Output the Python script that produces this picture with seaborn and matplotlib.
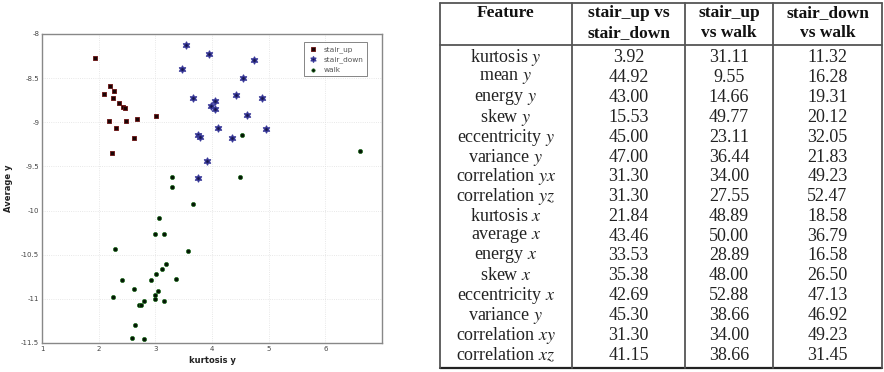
import matplotlib
matplotlib.use("Agg")
import matplotlib.pyplot as plt
import seaborn as sns
import pandas as pd

# ---------------- data ----------------
up_x = [1.93, 2.20, 2.10, 2.27, 2.25, 2.35, 2.43, 2.46, 2.18, 2.31, 2.49, 2.67, 2.62, 2.23, 3.02]
up_y = [-8.27, -8.59, -8.68, -8.65, -8.72, -8.78, -8.83, -8.84, -8.99, -9.07, -8.99, -8.96, -9.18, -9.35, -8.93]

down_x = [3.54, 3.47, 3.66, 3.95, 4.75, 4.54, 4.43, 4.88, 4.05, 3.98, 4.05, 4.61, 4.11, 4.96, 3.76, 3.78, 4.35, 3.91, 3.76]
down_y = [-8.13, -8.40, -8.73, -8.23, -8.30, -8.50, -8.69, -8.73, -8.76, -8.81, -8.85, -8.92, -9.07, -9.08, -9.14, -9.17, -9.18, -9.44, -9.63]

walk_x = [4.53, 4.50, 6.62, 3.29, 3.67, 3.06, 3.00, 3.15, 2.29, 3.57, 3.19, 3.12, 3.02, 2.41, 2.92,
          3.36, 2.63, 3.05, 2.26, 2.99, 3.00, 3.16, 2.80, 2.71, 2.75, 2.64, 2.59, 2.80, 3.30]
walk_y = [-9.14, -9.62, -9.32, -9.62, -9.92, -10.08, -10.26, -10.27, -10.44, -10.46, -10.61, -10.66, -10.72,
          -10.79, -10.79, -10.78, -10.89, -10.91, -10.98, -10.96, -11.00, -11.02, -11.02, -11.07, -11.07,
          -11.30, -11.44, -11.46, -9.73]

class_names = ["stair_up", "stair_down", "walk"]
x_ticks = [1, 2, 3, 4, 5, 6]
y_ticks = [-8, -8.5, -9, -9.5, -10, -10.5, -11, -11.5]
y_tick_labels = ["-8", "-8.5", "-9", "-9.5", "-10", "-10.5", "-11", "-11.5"]

header_line1 = ["Feature", "stair_up vs", "stair_up", "stair_down"]
header_line2 = ["", "stair_down", "vs walk", "vs walk"]
features = ["kurtosis $y$", "mean $y$", "energy $y$", "skew $y$", "eccentricity $y$", "variance $y$",
            "correlation $yx$", "correlation $yz$", "kurtosis $x$", "average $x$", "energy $x$",
            "skew $x$", "eccentricity $x$", "variance $y$", "correlation $xy$", "correlation $xz$"]
up_vs_down = ["3.92", "44.92", "43.00", "15.53", "45.00", "47.00", "31.30", "31.30", "21.84", "43.46",
              "33.53", "35.38", "42.69", "45.30", "31.30", "41.15"]
up_vs_walk = ["31.11", "9.55", "14.66", "49.77", "23.11", "36.44", "34.00", "27.55", "48.89", "50.00",
              "28.89", "48.00", "52.88", "38.66", "34.00", "38.66"]
down_vs_walk = ["11.32", "16.28", "19.31", "20.12", "32.05", "21.83", "49.23", "52.47", "18.58", "36.79",
                "16.58", "26.50", "47.13", "46.92", "49.23", "31.45"]

# ---------------- style ----------------
sns.set_style("white")
plt.rcParams["font.family"] = ["DejaVu Sans"]
plt.rcParams["axes.unicode_minus"] = False
plt.rcParams["mathtext.fontset"] = "stix"

fig = plt.figure(figsize=(8.84, 3.72), dpi=100)

# ---------------- scatter ----------------
ax = fig.add_axes([42 / 884, 1 - 343 / 372, 340 / 884, 309 / 372])

df = pd.concat([
    pd.DataFrame({"kurtosis": up_x, "avg": up_y, "cls": class_names[0]}),
    pd.DataFrame({"kurtosis": down_x, "avg": down_y, "cls": class_names[1]}),
    pd.DataFrame({"kurtosis": walk_x, "avg": walk_y, "cls": class_names[2]}),
], ignore_index=True)

styles = {
    "stair_up": dict(marker="s", s=10, color="#1a0505", edgecolor="#6a1010", linewidth=0.6),
    "stair_down": dict(marker=(6, 1, 0), s=26, color="#15154a", edgecolor="#3a3a9a", linewidth=0.9),
    "walk": dict(marker="o", s=9, color="#051505", edgecolor="#1a6a1a", linewidth=0.5),
}
for name in class_names:
    sub = df[df["cls"] == name]
    sns.scatterplot(data=sub, x="kurtosis", y="avg", ax=ax, label=name, zorder=3, **styles[name])

ax.set_xlim(1, 7)
ax.set_ylim(-11.5, -8)
ax.set_xticks(x_ticks)
ax.set_yticks(y_ticks)
ax.set_yticklabels(y_tick_labels)
ax.tick_params(axis="both", labelsize=5, colors="#444444", direction="in", length=2, width=0.5, pad=2)
ax.grid(True, color="#e0e0e0", linestyle=":", linewidth=0.6)
for sp in ax.spines.values():
    sp.set_color("#888888")
    sp.set_linewidth(1.0)
ax.set_xlabel("kurtosis y", fontsize=6, fontweight="bold", color="#222222", labelpad=3)
ax.set_ylabel("Average y", fontsize=6, fontweight="bold", color="#222222", labelpad=6)

leg = ax.legend(loc="upper right", bbox_to_anchor=(0.967, 0.985), fontsize=5.3, frameon=True,
                fancybox=False, borderpad=0.5, handletextpad=0.8, labelspacing=0.45,
                markerscale=0.8, handlelength=1.3)
leg.get_frame().set_edgecolor("#666666")
leg.get_frame().set_linewidth(0.7)
for t in leg.get_texts():
    t.set_color("#555555")

# ---------------- table ----------------
tx = fig.add_axes([0, 0, 1, 1])
tx.set_xlim(0, 884)
tx.set_ylim(372, 0)
tx.axis("off")

col_edges = [440, 572, 685, 773, 882]
col_centers = [(col_edges[i] + col_edges[i + 1]) / 2 for i in range(4)]
top, header_bottom, bottom = 3, 45, 368
row0, row_step = 58, 19.8

line_kw = dict(color="#555555", linewidth=1.3)
tx.plot([col_edges[0], col_edges[-1]], [top, top], **line_kw)
tx.plot([col_edges[0], col_edges[-1]], [header_bottom, header_bottom], **line_kw)
tx.plot([col_edges[0], col_edges[-1]], [bottom, bottom], color="#222222", linewidth=1.6)
for xe in col_edges:
    tx.plot([xe, xe], [top, bottom], **line_kw)

serif = ["Liberation Serif", "DejaVu Serif"]
for i in range(4):
    tx.text(col_centers[i], 13, header_line1[i], ha="center", va="center", fontsize=12.5,
            fontweight="bold", family=serif, color="#111111")
    tx.text(col_centers[i], 33, header_line2[i], ha="center", va="center", fontsize=12.5,
            fontweight="bold", family=serif, color="#111111")

columns = [features, up_vs_down, up_vs_walk, down_vs_walk]
for c, col in enumerate(columns):
    for r, val in enumerate(col):
        tx.text(col_centers[c], row0 + r * row_step, val, ha="center", va="center",
                fontsize=13, family=serif, color="#222222")

fig.savefig("out.png", dpi=100)
